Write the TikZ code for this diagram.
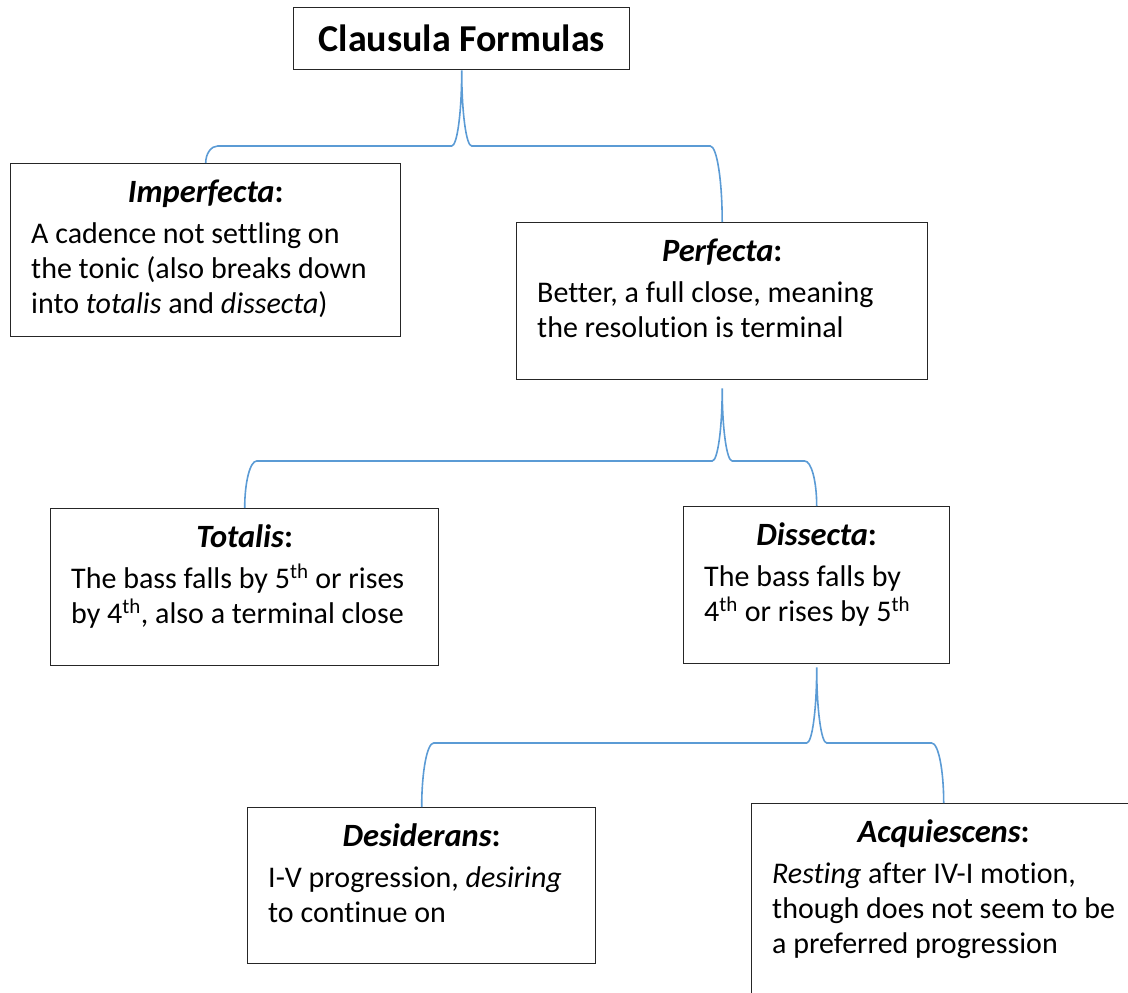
\documentclass[tikz,border=0pt]{standalone}
\usepackage{fontspec}
\setmainfont{Carlito}[Ligatures={NoCommon}]
\usetikzlibrary{calc}
\definecolor{connblue}{HTML}{5B9BD5}
\definecolor{edgegray}{HTML}{262626}
\tikzset{
  box/.style={draw=edgegray, line width=1.4pt, inner sep=0pt, anchor=north west},
  hd/.style={font=\fontsize{32.5}{38}\selectfont, inner sep=0pt, anchor=base},
  ln/.style={font=\fontsize{30}{36}\selectfont, inner sep=0pt, anchor=base west},
  link/.style={draw=connblue, line width=1.6pt},
}
\newcommand\bracelink[5]{%
  \draw[link] let \p1=(#1.north), \p2=($(#2.south)+(0,#5)$), \p3=(#3.north), \p4=(#4),
    \n1={\y4-\y1}, \n2={\y2-\y4}, \n3={\y4-\y3} in
    (\p1) .. controls (\x1,\y1+0.5523*\n1) and (\x1+5.37pt,\y4) .. (\x1+12pt,\y4)
    -- (\x2-10pt,\y4) .. controls (\x2-4.477pt,\y4) and (\x2,\y2-0.5523*\n2) .. (\x2,\y2)
    .. controls (\x2,\y2-0.5523*\n2) and (\x2+4.477pt,\y4) .. (\x2+10pt,\y4)
    -- (\x3-12pt,\y4) .. controls (\x3-5.37pt,\y4) and (\x3,\y3+0.5523*\n3) .. (\p3);
}
\begin{document}
\begin{tikzpicture}[x=1pt,y=-1pt]
\useasboundingbox (0,0) rectangle (1128,993);
\clip (0,0) rectangle (1128,993);
% boxes
\node[box, minimum width=336pt, minimum height=62pt, font=\fontsize{38}{45}\selectfont\bfseries] (title) at (293,7) {Clausula Formulas};
\node[box, minimum width=390pt, minimum height=173pt] (imp) at (10,163) {};
\node[box, minimum width=411pt, minimum height=157pt] (perf) at (516,222) {};
\node[box, minimum width=388pt, minimum height=157pt] (tot) at (50,508) {};
\node[box, minimum width=266pt, minimum height=157pt] (dis) at (683,506) {};
\node[box, minimum width=348pt, minimum height=156pt] (des) at (247,807) {};
\node[box, minimum width=384pt, minimum height=220pt] (acq) at (751,803) {};
% texts
\node[hd] (imph) at ($(imp.north)+(0,39)$) {\textbf{\textit{Imperfecta}:}};
\node[ln] (imp1) at ($(imp.north west)+(21,80)$) {A cadence not settling on};
\node[ln] (imp2) at ($(imp.north west)+(21,115)$) {the tonic (also breaks down};
\node[ln] (imp3) at ($(imp.north west)+(21,150)$) {into \textit{totalis} and \textit{dissecta})};
\node[hd] (perfh) at ($(perf.north)+(0,39)$) {\textbf{\textit{Perfecta}:}};
\node[ln] (perf1) at ($(perf.north west)+(21,80)$) {Better, a full close, meaning};
\node[ln] (perf2) at ($(perf.north west)+(21,115)$) {the resolution is terminal};
\node[hd] (toth) at ($(tot.north)+(0,39)$) {\textbf{\textit{Totalis}:}};
\node[ln] (tot1) at ($(tot.north west)+(21,80)$) {The bass falls by 5\textsuperscript{th} or rises};
\node[ln] (tot2) at ($(tot.north west)+(21,115)$) {by 4\textsuperscript{th}, also a terminal close};
\node[hd] (dish) at ($(dis.north)+(0,39)$) {\textbf{\textit{Dissecta}:}};
\node[ln] (dis1) at ($(dis.north west)+(21,80)$) {The bass falls by};
\node[ln] (dis2) at ($(dis.north west)+(21,115)$) {4\textsuperscript{th} or rises by 5\textsuperscript{th}};
\node[hd] (desh) at ($(des.north)+(0,39)$) {\textbf{\textit{Desiderans}:}};
\node[ln] (des1) at ($(des.north west)+(21,80)$) {I-V progression, \textit{desiring}};
\node[ln] (des2) at ($(des.north west)+(21,115)$) {to continue on};
\node[hd] (acqh) at ($(acq.north)+(0,39)$) {\textbf{\textit{Acquiescens}:}};
\node[ln] (acq1) at ($(acq.north west)+(21,80)$) {\textit{Resting} after IV-I motion,};
\node[ln] (acq2) at ($(acq.north west)+(21,115)$) {though does not seem to be};
\node[ln] (acq3) at ($(acq.north west)+(21,150)$) {a preferred progression};
% connectors
\coordinate (lev1) at (0,146);
\coordinate (lev2) at (0,461);
\coordinate (lev3) at (0,743);
\bracelink{imp}{title}{perf}{lev1}{0}
\bracelink{tot}{perf}{dis}{lev2}{8}
\bracelink{des}{dis}{acq}{lev3}{3}
\end{tikzpicture}
\end{document}
